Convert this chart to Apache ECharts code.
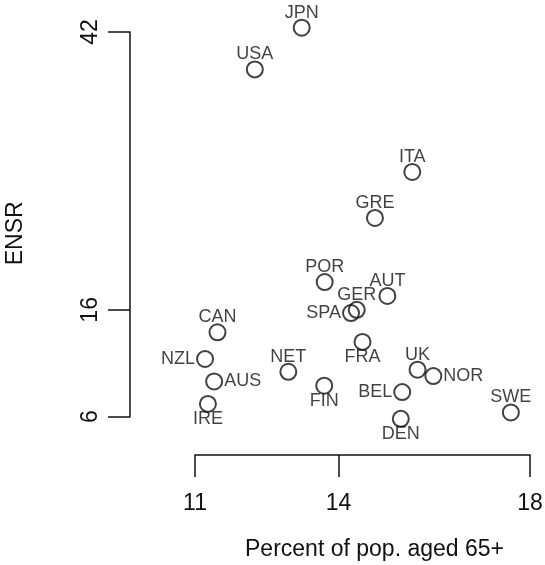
<!DOCTYPE html>
<html>
<head>
<meta charset="utf-8">
<script src="https://cdn.jsdelivr.net/npm/echarts@6/dist/echarts.min.js"></script>
<style>html,body{margin:0;padding:0;background:#fff;}#c{width:545px;height:565px;}</style>
</head>
<body>
<div id="c"></div>
<script>
const countries = ['JPN','USA','ITA','GRE','POR','AUT','GER','SPA','CAN','FRA','NZL','NET','AUS','FIN','UK','NOR','BEL','IRE','DEN','SWE'];
const pctAged65 = [13.23,12.25,15.54,14.76,13.71,15.02,14.38,14.26,11.47,14.50,11.21,12.95,11.40,13.70,15.65,15.98,15.33,11.27,15.30,17.60];
const ensr = [42.4,38.5,28.9,24.6,18.6,17.3,16.0,15.7,13.9,13.0,11.4,10.2,9.3,8.9,10.4,9.8,8.3,7.2,5.8,6.4];
const labelSide = ['top','top','top','top','top','top','top','left','top','bottom','left','top','right','bottom','top','right','left','bottom','bottom','top'];
const xTicks = [11,14,18];
const yTicks = [6,16,42];
const xTitle = 'Percent of pop. aged 65+';
const yTitle = 'ENSR';

const FONT = 'Liberation Sans, Arial, Helvetica, sans-serif';
const TXT = '#111';
const distFor = {top: -3, bottom: -3, left: 1, right: 1};

const data = countries.map((c, i) => ({
  value: [pctAged65[i], ensr[i]],
  name: c,
  label: {position: labelSide[i], distance: distFor[labelSide[i]]}
}));

const chart = echarts.init(document.getElementById('c'), null, {renderer: 'canvas'});
chart.setOption({
  animation: false,
  backgroundColor: '#fff',
  grid: {left: 195, right: 15, top: 32, bottom: 148.3, containLabel: false, outerBoundsMode: 'none'},
  xAxis: {
    type: 'value', min: 11, max: 18, offset: 38.3,
    axisLine: {show: true, lineStyle: {color: '#111', width: 1.5}},
    axisTick: {show: true, inside: false, length: 22, customValues: xTicks, lineStyle: {color: '#111', width: 1.5}},
    axisLabel: {customValues: xTicks, fontFamily: FONT, fontSize: 23, color: TXT, margin: 37},
    splitLine: {show: false},
    name: xTitle, nameLocation: 'middle', nameGap: 83,
    nameTextStyle: {fontFamily: FONT, fontSize: 23, color: TXT, padding: [0, 0, 0, 24]}
  },
  yAxis: {
    type: 'value', min: 6, max: 42, offset: 65,
    axisLine: {show: true, lineStyle: {color: '#111', width: 1.5}},
    axisTick: {show: true, inside: false, length: 22, customValues: yTicks, lineStyle: {color: '#111', width: 1.5}},
    axisLabel: {customValues: yTicks, rotate: 90, fontFamily: FONT, fontSize: 23, color: TXT, margin: 28},
    splitLine: {show: false},
    name: yTitle, nameLocation: 'middle', nameRotate: 90, nameGap: 103,
    nameTextStyle: {fontFamily: FONT, fontSize: 23, color: TXT, padding: [0, 18, 0, 0]}
  },
  series: [{
    type: 'scatter',
    clip: false,
    symbol: 'circle',
    symbolSize: 16,
    itemStyle: {color: 'rgba(255,255,255,0)', borderColor: '#111', borderWidth: 2},
    label: {show: true, formatter: '{b}', fontFamily: FONT, fontSize: 18, color: TXT},
    emphasis: {disabled: true},
    data: data
  }]
});
</script>
</body>
</html>
